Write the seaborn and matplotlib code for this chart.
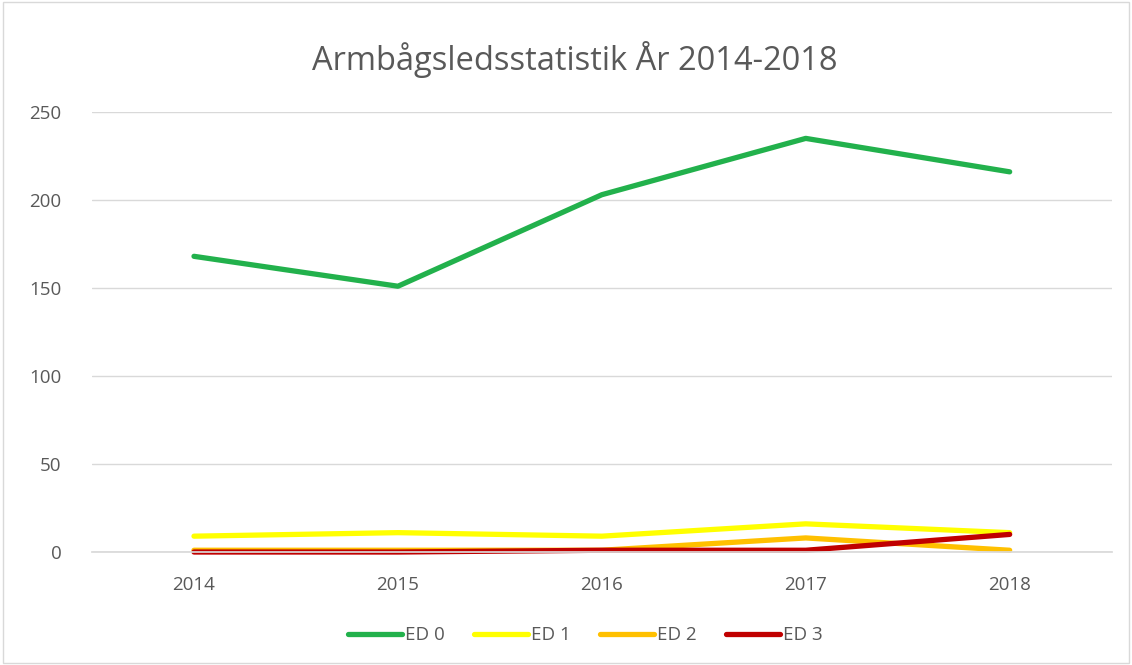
import pandas as pd
import seaborn as sns
import matplotlib.pyplot as plt
from matplotlib.patches import Rectangle

years = ["2014", "2015", "2016", "2017", "2018"]
ed0 = [168, 151, 203, 235, 216]
ed1 = [9, 11, 9, 16, 11]
ed2 = [1, 1, 1, 8, 1]
ed3 = [0, 0, 1, 1, 10]
series = ["ED 0", "ED 1", "ED 2", "ED 3"]
colors = ["#22b14c", "#ffff00", "#ffc000", "#c00000"]

df = pd.DataFrame({"År": years * 4,
                   "Antal": ed0 + ed1 + ed2 + ed3,
                   "Serie": [s for s in series for _ in years]})

sns.set_theme(style="white")
plt.rcParams["font.family"] = ["Open Sans", "DejaVu Sans"]
gray = "#595959"

fig = plt.figure(figsize=(11.32, 6.65), dpi=100)
ax = fig.add_axes([0.0813, 0.1699, 0.9007, 0.6617])
sns.lineplot(data=df, x="År", y="Antal", hue="Serie", palette=colors,
             linewidth=3.8, ax=ax, legend=False, sort=False)
for ln in ax.lines:
    ln.set_clip_on(False)
    ln.set_solid_capstyle("round")

ax.set_xlim(-0.5, 4.5)
ax.set_ylim(0, 250)
ax.set_yticks(range(0, 251, 50))
ax.yaxis.grid(True, color="#d9d9d9", linewidth=1)
ax.set_axisbelow(True)
for s in ["top", "right", "left"]:
    ax.spines[s].set_visible(False)
ax.spines["bottom"].set_color("#d9d9d9")
ax.tick_params(axis="both", colors=gray, labelsize=13.5, length=0)
ax.tick_params(axis="x", pad=17)
ax.tick_params(axis="y", pad=22)
ax.set_xlabel("")
ax.set_ylabel("")

fig.text(0.508, 0.91, "Armbågsledsstatistik År 2014-2018", ha="center",
         va="center", fontsize=23.5, color=gray)

handles = [plt.Line2D([], [], color=c, linewidth=3.8, solid_capstyle="round")
           for c in colors]
fig.legend(handles, series, loc="center", bbox_to_anchor=(0.517, 0.045), ncol=4,
           frameon=False, fontsize=13.5, handlelength=2.9, handletextpad=0.15,
           columnspacing=1.55, labelcolor=gray)

fig.patches.append(Rectangle((0.003, 0.003), 0.994, 0.994, transform=fig.transFigure,
                             fill=False, edgecolor="#d9d9d9", linewidth=1))
fig.savefig("out.png", dpi=100)
